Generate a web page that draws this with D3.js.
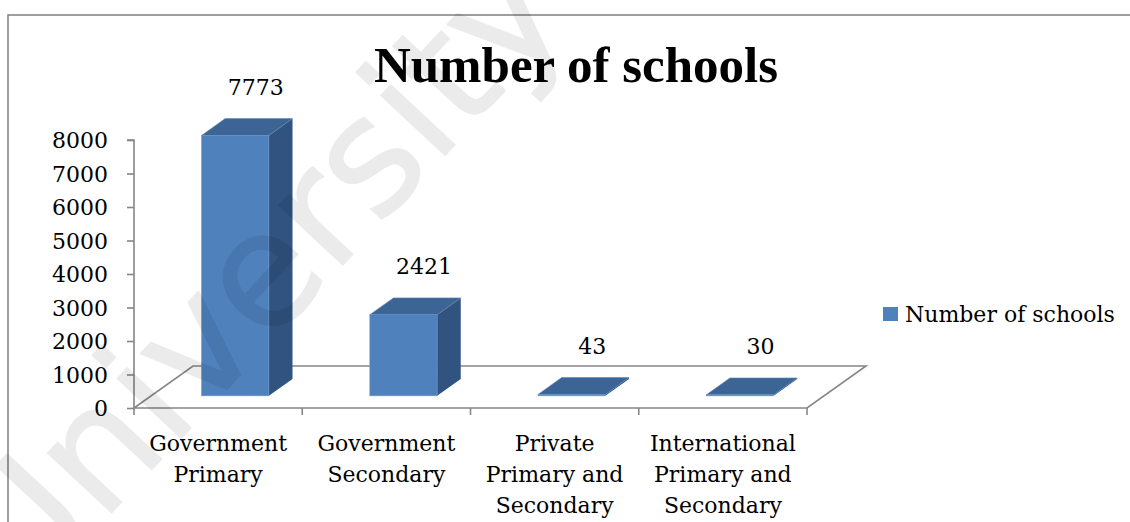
<!DOCTYPE html>
<html>
<head>
<meta charset="utf-8">
<script src="https://cdn.jsdelivr.net/npm/d3@7"></script>
<style>
  html, body { margin: 0; padding: 0; background: #fff; }
  svg { display: block; }
</style>
</head>
<body>
<svg id="chart" width="1130" height="522"></svg>
<script>
// Number of schools by type
const categories = [
  ["Government", "Primary"],
  ["Government", "Secondary"],
  ["Private", "Primary and", "Secondary"],
  ["International", "Primary and", "Secondary"]
];
const values = [7773, 2421, 43, 30];
const yTicks = [0, 1000, 2000, 3000, 4000, 5000, 6000, 7000, 8000];
const seriesName = "Number of schools";
const chartTitle = "Number of schools";
const watermark = "University of";

const svg = d3.select("#chart");
const W = 1130, H = 522;

const serif = "'DejaVu Serif', serif";
const C = {
  front: "#4f81bd",
  top: "#3c6494",
  side: "#31537f",
  axis: "#868686",
  frame: "#868686"
};

// plot frame (front-left origin of the 3D floor)
const x0 = 134, x1 = 807, yBase = 408, yTop = 140;
const depth = { dx: 59, dy: -42 };     // floor depth vector
const t0 = 0.29, t1 = 0.69;            // bar front/back depth fractions

const x = d3.scaleBand()
  .domain(d3.range(categories.length))
  .range([x0, x1])
  .paddingInner(0).paddingOuter(0);

const y = d3.scaleLinear().domain([0, 8000]).range([yBase, yTop]);

// outer chart border
svg.append("rect")
  .attr("x", 8).attr("y", 15)
  .attr("width", W + 20).attr("height", H + 20)
  .attr("fill", "none")
  .attr("stroke", C.frame)
  .attr("stroke-width", 1.6);

// floor outline
const floorPts = [
  [x0, yBase],
  [x1, yBase],
  [x1 + depth.dx, yBase + depth.dy],
  [x0 + depth.dx, yBase + depth.dy]
];
svg.append("path")
  .attr("d", "M" + floorPts.map(p => p.join(",")).join("L") + "Z")
  .attr("fill", "none")
  .attr("stroke", C.axis)
  .attr("stroke-width", 1.6);

// value axis
const yAxis = d3.axisLeft(y)
  .tickValues(yTicks)
  .tickSize(7)
  .tickPadding(19)
  .tickFormat(d3.format("d"));

const gy = svg.append("g")
  .attr("transform", `translate(${x0},0)`)
  .call(yAxis);
gy.select(".domain").attr("stroke", C.axis).attr("stroke-width", 1.6)
  .attr("d", `M-7,${yTop}H0V${yBase}`);
gy.selectAll(".tick line").attr("stroke", C.axis).attr("stroke-width", 1.6);
gy.selectAll(".tick text")
  .attr("font-family", serif)
  .attr("font-size", 22)
  .attr("fill", "#000")
  .attr("dy", "0.36em");

// category axis ticks at band boundaries
const edges = d3.range(categories.length + 1).map(i => x0 + i * x.bandwidth());
svg.append("g").selectAll("line")
  .data(edges)
  .join("line")
  .attr("x1", d => d).attr("x2", d => d)
  .attr("y1", yBase).attr("y2", yBase + 7)
  .attr("stroke", C.axis)
  .attr("stroke-width", 1.6);

// category labels
const catG = svg.append("g")
  .attr("font-family", serif)
  .attr("font-size", 22)
  .attr("fill", "#000")
  .attr("text-anchor", "middle");
categories.forEach((lines, i) => {
  const t = catG.append("text")
    .attr("x", x(i) + x.bandwidth() / 2)
    .attr("y", 451);
  lines.forEach((ln, j) => {
    t.append("tspan")
      .attr("x", x(i) + x.bandwidth() / 2)
      .attr("dy", j === 0 ? 0 : 31)
      .text(ln);
  });
});

// 3D bars
const barW = x.bandwidth() * 0.4;
const fx = depth.dx * t0, fy = depth.dy * t0;
const sx = depth.dx * (t1 - t0), sy = depth.dy * (t1 - t0);

const bars = svg.append("g");
values.forEach((v, i) => {
  const left = x(i) + x.bandwidth() * 0.3 + fx;
  const right = left + barW;
  const bottom = y(0) + fy;
  const top = y(v) + fy;
  const g = bars.append("g");
  // right side face
  g.append("path")
    .attr("d", `M${right},${top}L${right + sx},${top + sy}L${right + sx},${bottom + sy}L${right},${bottom}Z`)
    .attr("fill", C.side);
  // top face
  g.append("path")
    .attr("d", `M${left},${top}L${left + sx},${top + sy}L${right + sx},${top + sy}L${right},${top}Z`)
    .attr("fill", C.top)
    .attr("stroke", "#5a82b4").attr("stroke-width", 0.6);
  // front face
  if (bottom - top > 0.5) {
    g.append("rect")
      .attr("x", left).attr("y", top)
      .attr("width", barW).attr("height", bottom - top)
      .attr("fill", C.front)
      .attr("stroke", "#6b93c8").attr("stroke-width", 0.6);
  }
  // value label above the bar
  svg.append("text")
    .attr("x", left + barW / 2 + sx - 3)
    .attr("y", top + sy - 24)
    .attr("text-anchor", "middle")
    .attr("font-family", serif)
    .attr("font-size", 22)
    .attr("fill", "#000")
    .text(v);
});

// title
svg.append("text")
  .attr("x", 576).attr("y", 82)
  .attr("text-anchor", "middle")
  .attr("font-family", "'Liberation Serif', serif")
  .attr("font-weight", "bold")
  .attr("font-size", 51)
  .attr("fill", "#000")
  .text(chartTitle);

// legend
const lg = svg.append("g").attr("transform", "translate(883,307)");
lg.append("rect").attr("width", 15).attr("height", 14).attr("fill", C.front);
lg.append("text")
  .attr("x", 22).attr("y", 15)
  .attr("font-family", serif)
  .attr("font-size", 22)
  .attr("fill", "#000")
  .text(seriesName);

// diagonal watermark over everything
svg.append("text")
  .attr("transform", "translate(22,609) rotate(-47)")
  .attr("font-family", "'DejaVu Sans', sans-serif")
  .attr("font-size", 160)
  .attr("fill", "#000")
  .attr("stroke", "#000")
  .attr("stroke-width", 1.5)
  .attr("stroke-linejoin", "round")
  .attr("opacity", 0.075)
  .text(watermark);
</script>
</body>
</html>
